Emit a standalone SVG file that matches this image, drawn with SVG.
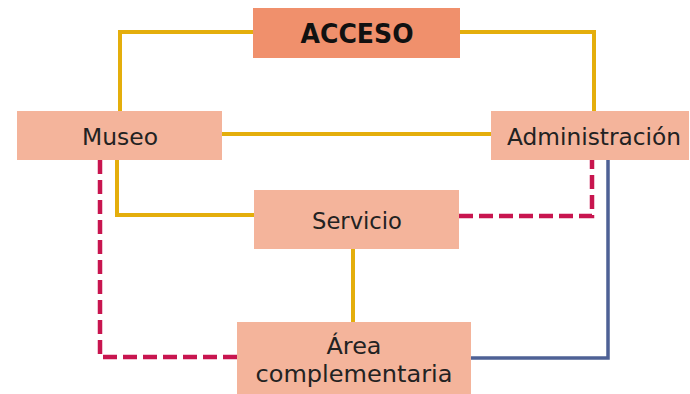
<svg xmlns="http://www.w3.org/2000/svg" width="690" height="394" viewBox="0 0 690 394">
<style>
.box{fill:#F4B49B}
.top{fill:#F0906C}
.lbl{font-family:"DejaVu Sans",sans-serif;font-size:23px;fill:#222;text-anchor:middle}
.ttl{font-family:"DejaVu Sans",sans-serif;font-size:26px;font-weight:bold;fill:#111;text-anchor:middle}
.y{fill:none;stroke:#E4AE0C;stroke-width:4}
.r{fill:none;stroke:#C8154F;stroke-width:4.5;stroke-dasharray:14 6}
.b{fill:none;stroke:#4E6195;stroke-width:3.5}
</style>
<rect width="690" height="394" fill="#fff"/>
<g id="connectors">
<polyline class="y" points="120,111 120,32 253,32"/>
<polyline class="y" points="460,32 594,32 594,111"/>
<line class="y" x1="222" y1="134" x2="491" y2="134"/>
<polyline class="y" points="117,160 117,215 254,215"/>
<line class="y" x1="353" y1="249" x2="353" y2="322"/>
<polyline class="r" points="100,160 100,357 237,357"/>
<polyline class="r" points="459,216 592,216 592,160"/>
<polyline class="b" points="608,160 608,358 471,358"/>
</g>
<g id="acceso"><rect class="top" x="253" y="8" width="207" height="50"/><text class="ttl" x="357" y="43" textLength="113" lengthAdjust="spacingAndGlyphs">ACCESO</text></g>
<g id="museo"><rect class="box" x="17" y="111" width="205" height="49"/><text class="lbl" x="120" y="145" textLength="76" lengthAdjust="spacingAndGlyphs">Museo</text></g>
<g id="administracion"><rect class="box" x="491" y="111" width="198" height="49"/><text class="lbl" x="594" y="145" textLength="174" lengthAdjust="spacingAndGlyphs">Administración</text></g>
<g id="servicio"><rect class="box" x="254" y="190" width="205" height="59"/><text class="lbl" x="357" y="229" textLength="90" lengthAdjust="spacingAndGlyphs">Servicio</text></g>
<g id="area"><rect class="box" x="237" y="322" width="234" height="72"/><text class="lbl" x="354" y="354" textLength="55" lengthAdjust="spacingAndGlyphs">Área</text><text class="lbl" x="354" y="382" textLength="197" lengthAdjust="spacingAndGlyphs">complementaria</text></g>
</svg>
